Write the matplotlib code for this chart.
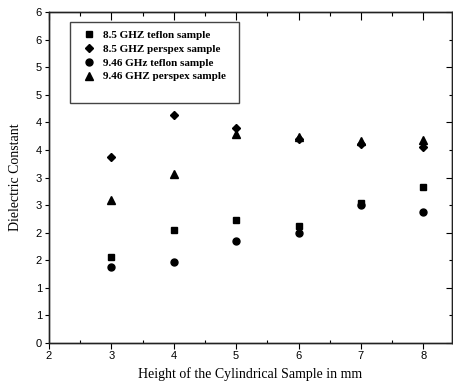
import matplotlib.pyplot as plt
from matplotlib.patches import Rectangle
from matplotlib.ticker import MultipleLocator, FuncFormatter
import numpy as np

heights = [3, 4, 5, 6, 7, 8]

teflon_85 = [1.55, 2.04, 2.23, 2.12, 2.53, 2.83]
perspex_85 = [3.37, 4.13, 3.89, 3.70, 3.61, 3.56]
teflon_946 = [1.37, 1.47, 1.84, 2.00, 2.50, 2.37]
perspex_946 = [2.59, 3.06, 3.79, 3.74, 3.67, 3.68]

labels = ["8.5 GHZ teflon sample", "8.5 GHZ perspex sample",
          "9.46 GHz teflon sample", "9.46 GHZ perspex sample"]

fig = plt.figure(figsize=(4.53, 3.92), dpi=100)
ax = fig.add_axes([49/453, 49/392, 403/453, 331/392])

h1, = ax.plot(heights, teflon_85, 's', ms=4.3, color='k', ls='none')
h2, = ax.plot(heights, perspex_85, 'D', ms=4.1, color='k', ls='none')
h3, = ax.plot(heights, teflon_946, 'o', ms=5.0, color='k', ls='none')
h4, = ax.plot(heights, perspex_946, '^', ms=5.2, color='k', ls='none')

ax.set_xlim(2, 8.46)
ax.set_ylim(0, 6)

# left / bottom axes
ax.yaxis.set_major_locator(MultipleLocator(0.5))
ax.yaxis.set_major_formatter(FuncFormatter(lambda v, p: str(int(np.floor(v + 0.5)))))
ax.xaxis.set_major_locator(MultipleLocator(1))
ax.xaxis.set_minor_locator(MultipleLocator(0.5))
ax.tick_params(axis='y', which='major', direction='out', length=3, width=0.8,
               labelsize=8, pad=2)
ax.tick_params(axis='x', which='major', direction='out', length=4, width=0.8,
               labelsize=8, pad=2)
ax.tick_params(axis='x', which='minor', direction='in', length=2, width=0.8)
for lab in ax.get_xticklabels() + ax.get_yticklabels():
    lab.set_fontfamily('Liberation Sans')

# right axis
ax2 = ax.twinx()
ax2.set_ylim(0, 6)
ax2.yaxis.set_major_locator(MultipleLocator(1))
ax2.yaxis.set_minor_locator(MultipleLocator(0.5))
ax2.tick_params(axis='y', which='major', direction='in', length=4, width=0.8, labelright=False)
ax2.tick_params(axis='y', which='minor', direction='in', length=2, width=0.8)

# top axis
ax3 = ax.twiny()
ax3.set_xlim(2, 8.46)
ax3.xaxis.set_major_locator(MultipleLocator(1))
ax3.xaxis.set_minor_locator(MultipleLocator(0.5))
ax3.tick_params(axis='x', which='major', direction='in', length=6, width=0.8, labeltop=False)
ax3.tick_params(axis='x', which='minor', direction='in', length=3, width=0.8)

for a in (ax, ax2, ax3):
    for s in a.spines.values():
        s.set_linewidth(0.9)
        s.set_color('#222222')

ax.set_xlabel('Height of the Cylindrical Sample in mm', fontfamily='Liberation Serif',
              fontsize=10, labelpad=4)
ax.set_ylabel('Dielectric Constant', fontfamily='Liberation Serif', fontsize=10,
              labelpad=10)

fig.patches.append(Rectangle((70/453, (392-103)/392), 169/453, 81/392,
                             transform=fig.transFigure, fill=False,
                             edgecolor='#444444', linewidth=1.0))
fig.legend([h1, h2, h3, h4], labels, loc='upper left',
           bbox_to_anchor=(83/453, (392-30)/392), frameon=False,
           borderpad=0, borderaxespad=0, handlelength=1.0, handletextpad=0.8,
           labelspacing=0.37,
           prop={'family': 'Liberation Serif', 'weight': 'bold', 'size': 8})

fig.savefig('out.png', dpi=100)
